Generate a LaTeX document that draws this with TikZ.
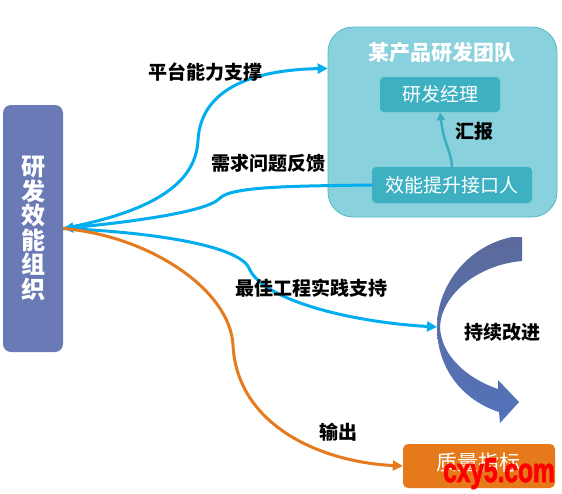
\documentclass[tikz,border=0pt]{standalone}
\usepackage{fontspec}
\setmainfont{Noto Sans CJK SC}
\newfontfamily\wmfont[BoldFeatures={FakeBold=2.5}]{Liberation Sans}
\usetikzlibrary{arrows.meta}
\definecolor{orgc}{HTML}{6A7AB6}
\definecolor{teamc}{HTML}{89D1DC}
\definecolor{teamb}{HTML}{55B9C9}
\definecolor{innerc}{HTML}{3DB1C2}
\definecolor{bluec}{HTML}{00AEEF}
\definecolor{orangec}{HTML}{E57B1E}
\definecolor{qualc}{HTML}{E67A1A}
\definecolor{cyctop}{HTML}{5B6A9C}
\definecolor{cycbot}{HTML}{5472BA}
\definecolor{repc}{HTML}{3AAFC0}
\begin{document}
\begin{tikzpicture}[x=1pt,y=-1pt,
  box/.style={inner sep=0pt, text=white},
  lbl/.style={font=\fontsize{19}{19}\selectfont\bfseries, text=black, inner sep=0pt},
  bconn/.style={draw=bluec, line width=3pt, -{Triangle[length=10pt,width=10pt]}},
  oconn/.style={draw=orangec, line width=3pt, -{Triangle[length=10pt,width=10pt]}}]
\useasboundingbox (0,0) rectangle (562,493);
\fill[white] (0,0) rectangle (562,493);

% boxes
\node[box, fill=orgc, rounded corners=8pt, minimum width=60pt, minimum height=247pt,
  align=center, font=\fontsize{24}{24.5}\selectfont\bfseries] (org) at (33,228.5)
  {研\\发\\效\\能\\组\\织};
\node[box, fill=teamc, draw=teamb, line width=0.8pt, rounded corners=25pt,
  minimum width=229pt, minimum height=190pt] (team) at (442.5,122) {};
\node[box, font=\fontsize{21}{21}\selectfont\bfseries] (title) at (442,53) {某产品研发团队};
\node[box, fill=innerc, rounded corners=4pt, minimum width=120pt, minimum height=35pt,
  font=\fontsize{19}{19}\selectfont] (mgr) at (440,94.5) {研发经理};
\node[box, fill=innerc, rounded corners=4pt, minimum width=160pt, minimum height=36pt,
  font=\fontsize{19}{19}\selectfont] (iface) at (452,185) {效能提升接口人};
\node[box, fill=qualc, rounded corners=5pt, minimum width=152pt, minimum height=44pt] (qual) at (479,466) {};
\node[box, font=\fontsize{21}{21}\selectfont] (qualtxt) at (478,463) {质量指标};

% cycle arrow
\shade[top color=cyctop, bottom color=cycbot]
  (512,237) .. controls (468,246) and (437,285) .. (437,327)
  .. controls (437,368) and (462,400) .. (499,412)
  -- (500,423) -- (519,402) -- (498,380) -- (498,389)
  .. controls (466,378) and (441,355) .. (440,327)
  .. controls (441,296) and (476,265) .. (522,261)
  -- (522,237) -- cycle;
\coordinate (cyc) at (437,327);
\node[lbl] (cyclbl) at (502,332) {持续改进};

% connectors
\draw[bconn] (org.east) .. controls (150,212) and (196,185) .. (198,140)
  .. controls (201,90) and (250,70) .. (team.155);
\draw[bconn] (iface.west) .. controls (300,186) and (232,186) .. (220,198)
  .. controls (208,212) and (130,222) .. (org.east);
\draw[bconn] (org.east) .. controls (150,232) and (238,245) .. (249,268)
  .. controls (262,300) and (350,322) .. (cyc);
\draw[oconn] (org.east) .. controls (150,236) and (230,290) .. (233,345)
  .. controls (237,425) and (320,462) .. (qual.west);
\draw[draw=repc, line width=2.5pt, -{Triangle[length=8pt,width=8pt]}]
  (iface.north) .. controls (451,150) and (444,145) .. (mgr.south);

% labels
\node[lbl] (l1) at (205,72) {平台能力支撑};
\node[lbl] (l2) at (268,163) {需求问题反馈};
\node[lbl] (l3) at (311,288) {最佳工程实践支持};
\node[lbl] (l4) at (338,432) {输出};
\node[lbl] (l5) at (474,131) {汇报};

% watermark
\node[anchor=base, inner sep=0pt, text=red, xscale=0.72,
  font=\wmfont\fontsize{34}{34}\selectfont\bfseries] (wm) at (499,482) {cxy5.com};
\end{tikzpicture}
\end{document}
